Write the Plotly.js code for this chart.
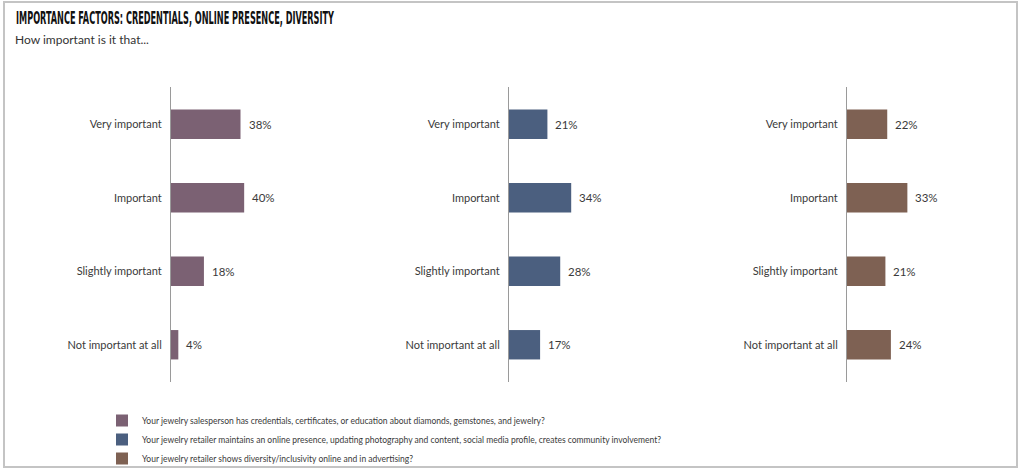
<!DOCTYPE html>
<html>
<head>
<meta charset="utf-8">
<script src="https://cdn.plot.ly/plotly-3.0.1.min.js"></script>
<style>html,body{margin:0;padding:0;background:#fff;}#chart{width:1024px;height:473px;}</style>
</head>
<body>
<div id="chart"></div>
<script>
var categories = ["Very important", "Important", "Slightly important", "Not important at all"];
var credentials = [38, 40, 18, 4];
var onlinePresence = [21, 34, 28, 17];
var diversity = [22, 33, 21, 24];
var seriesNames = [
  "Your jewelry salesperson has credentials, certificates, or education about diamonds, gemstones, and jewelry?",
  "Your jewelry retailer maintains an online presence, updating photography and content, social media profile, creates community involvement?",
  "Your jewelry retailer shows diversity/inclusivity online and in advertising?"
];
var colors = ["#7b6173", "#4b5f7f", "#7e6153"];
var titleText = "IMPORTANCE FACTORS: CREDENTIALS, ONLINE PRESENCE, DIVERSITY";
var subtitleText = "How important is it that...";
var boundaryTicks = [-0.5, 0.5, 1.5, 2.5, 3.5];

var W = 1024, H = 473;
var px = function(v){ return v / W; };
var py = function(v){ return 1 - v / H; };

var series = [credentials, onlinePresence, diversity];
var axisIds = ["", "2", "3"];
var axisLeft = [171, 509, 847];
var panelW = 150;
var xMax = 82;
var labelFont = {family: "Lato, 'Open Sans', sans-serif", size: 11, color: "#3a3a3a"};

var traces = [];
var annotations = [];
var shapes = [{
  type: "rect", xref: "paper", yref: "paper",
  x0: px(4), x1: px(1017), y0: py(467), y1: py(2),
  line: {color: "#c4c4c4", width: 2}, layer: "below"
}];

series.forEach(function(vals, i){
  traces.push({
    type: "bar", orientation: "h",
    x: vals, y: categories,
    xaxis: "x" + axisIds[i], yaxis: "y" + axisIds[i],
    name: seriesNames[i],
    marker: {color: colors[i]},
    width: 0.4,
    hoverinfo: "skip"
  });
  vals.forEach(function(v, j){
    annotations.push({
      x: v, y: categories[j], xref: "x" + axisIds[i], yref: "y" + axisIds[i],
      text: v + "%", showarrow: false, xanchor: "left", xshift: 6,
      font: {family: labelFont.family, size: 11.5, color: "#3a3a3a"}
    });
  });
  boundaryTicks.forEach(function(b){
    shapes.push({
      type: "line", xref: "x" + axisIds[i], yref: "y" + axisIds[i],
      xsizemode: "pixel", xanchor: 0, x0: -5, x1: 0,
      y0: b, y1: b,
      line: {color: "#9a9a9a", width: 1}
    });
  });
});

annotations.push({
  xref: "paper", yref: "paper", x: px(14), y: py(18), xanchor: "left", yanchor: "middle",
  text: "<b>" + titleText + "</b>", showarrow: false,
  font: {family: "'Liberation Sans Narrow', 'DejaVu Sans Condensed', sans-serif", size: 17, color: "#111"}
});
annotations.push({
  xref: "paper", yref: "paper", x: px(13), y: py(39), xanchor: "left", yanchor: "middle",
  text: subtitleText, showarrow: false,
  font: {family: "Lato, 'Open Sans', sans-serif", size: 12, color: "#333"}
});

var layout = {
  width: W, height: H,
  margin: {l: 0, r: 0, t: 0, b: 0, autoexpand: false},
  paper_bgcolor: "#fff", plot_bgcolor: "rgba(0,0,0,0)",
  showlegend: true,
  legend: {
    x: px(102), y: py(406), xanchor: "left", yanchor: "top",
    font: {family: "Lato, 'Open Sans', sans-serif", size: 8.5, color: "#3a3a3a"},
    itemwidth: 30, tracegroupgap: 0, bgcolor: "rgba(0,0,0,0)"
  },
  annotations: annotations,
  shapes: shapes
};

axisIds.forEach(function(id, i){
  layout["xaxis" + id] = {
    domain: [px(axisLeft[i]), px(axisLeft[i] + panelW)],
    range: [0, xMax], visible: false, fixedrange: true,
    anchor: "y" + id
  };
  layout["yaxis" + id] = {
    domain: [py(382), py(87)],
    anchor: "x" + id,
    type: "category",
    categoryorder: "array", categoryarray: categories,
    autorange: "reversed",
    showline: true, linecolor: "#9a9a9a", linewidth: 1,
    ticks: "outside", ticklen: 5, tickcolor: "rgba(0,0,0,0)",
    showgrid: false, zeroline: false,
    tickfont: labelFont, ticklabelstandoff: 1,
    fixedrange: true
  };
});

Plotly.newPlot("chart", traces, layout, {displayModeBar: false, staticPlot: true}).then(function(){
  var texts = document.querySelectorAll(".annotation-text");
  texts.forEach(function(t){
    if (t.textContent === titleText) {
      var bb = t.getBBox();
      t.setAttribute("text-anchor", "start");
      t.setAttribute("x", bb.x);
      t.setAttribute("textLength", "318");
      t.setAttribute("lengthAdjust", "spacingAndGlyphs");
    }
  });
});
</script>
</body>
</html>
